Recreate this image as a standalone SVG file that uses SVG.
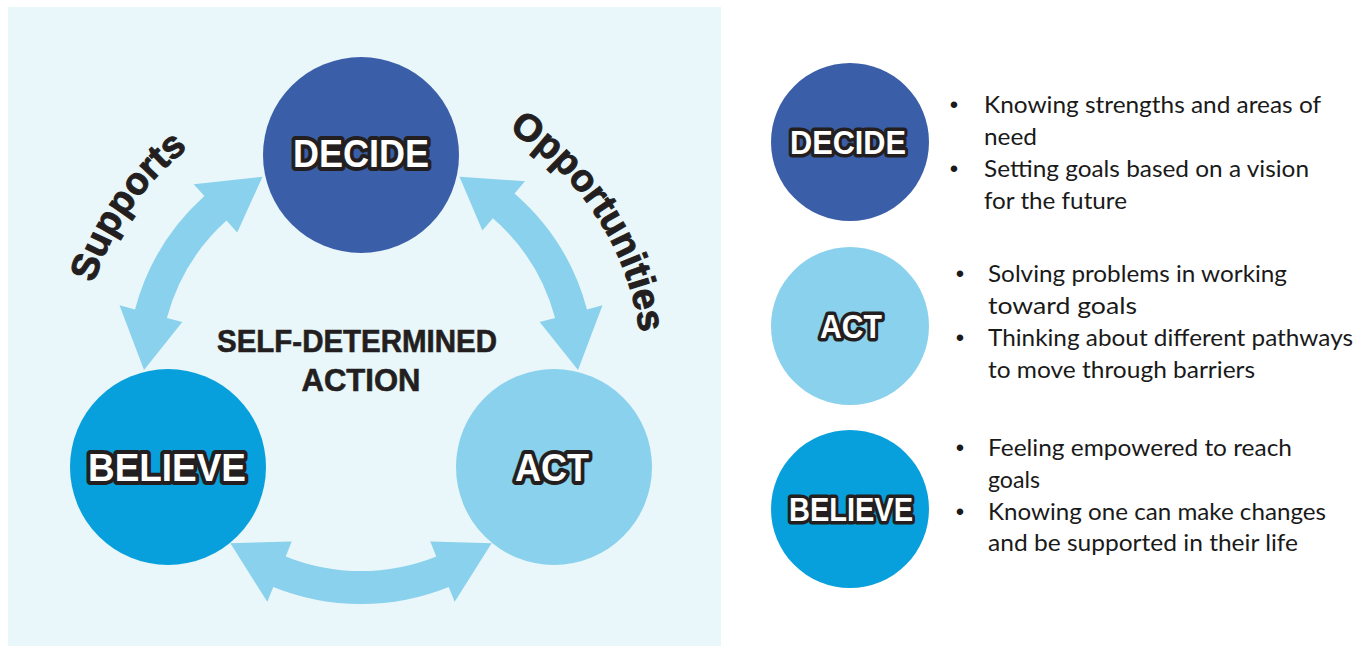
<svg xmlns="http://www.w3.org/2000/svg" width="1364" height="648" viewBox="0 0 1364 648">
<defs>
<style>
.lbl{font-family:"Liberation Sans",Arial,sans-serif;font-weight:700;fill:#ffffff;stroke:#231f20;stroke-linejoin:round;paint-order:stroke;text-anchor:middle}
.big{font-size:38px;stroke-width:8px}
.sm{font-size:33px;stroke-width:7px}
.arcl{font-family:"Liberation Sans",Arial,sans-serif;font-weight:700;font-size:38px;fill:#231f20;stroke:#231f20;stroke-width:1px}
.ctr{font-family:"Liberation Sans",Arial,sans-serif;font-weight:700;font-size:31px;fill:#231f20;stroke:#231f20;stroke-width:0.6px;text-anchor:middle}
.bt{font-family:Lato,"Liberation Sans",sans-serif;font-size:24px;fill:#1a1a1a}
.bul{font-family:"Liberation Sans",Arial,sans-serif;font-size:24px;fill:#1a1a1a;text-anchor:middle}
.arrow{fill:#89d1ec}
.decide{fill:#3b5ea9}
.act{fill:#89d1ec}
.believe{fill:#08a0dc}
</style>
<path id="supPath" d="M 81.07,345.51 A 281 281 0 0 1 242.24,115.33"/>
<path id="oppPath" d="M 488.57,119.63 A 281 281 0 0 1 641.62,355.29"/>
</defs>
<rect x="8" y="7" width="713" height="639" fill="#e9f6fa"/>
<g id="connectors">
<path class="arrow" d="M 144,370 L 119.5,305.3 L 135.0,309.4 A 234 234 0 0 1 204.4,196.1 L 193.7,184.2 L 262.5,176.7 L 237.2,232.5 L 226.5,220.6 A 201 201 0 0 0 166.9,318.0 L 182.3,322.1 Z"/>
<path class="arrow" d="M 459.5,176.7 L 525.0,181.3 L 514.5,193.4 A 234 234 0 0 1 587.0,309.4 L 602.5,305.3 L 578,370 L 539.7,322.1 L 555.1,318.0 A 201 201 0 0 0 492.9,218.3 L 482.4,230.4 Z"/>
<path class="arrow" d="M 491.6,543.3 L 430.3,541.5 L 436.3,556.4 A 201 201 0 0 1 285.7,556.4 L 291.7,541.5 L 230.4,543.3 L 267.3,601.8 L 273.3,587.0 A 234 234 0 0 0 448.7,587.0 L 454.7,601.8 Z"/>
<text class="arcl"><textPath href="#supPath" startOffset="50%" text-anchor="middle">Supports</textPath></text>
<text class="arcl"><textPath href="#oppPath" startOffset="50%" text-anchor="middle">Opportunities</textPath></text>
</g>
<g id="node-decide">
<circle class="decide" cx="361" cy="155" r="98"/>
<text class="lbl big" x="361" y="167" textLength="136" lengthAdjust="spacingAndGlyphs">DECIDE</text>
</g>
<g id="node-believe">
<circle class="believe" cx="168" cy="467" r="98"/>
<text class="lbl big" x="167" y="481" textLength="158" lengthAdjust="spacingAndGlyphs">BELIEVE</text>
</g>
<g id="node-act">
<circle class="act" cx="554" cy="467" r="98"/>
<text class="lbl big" x="552" y="481" textLength="74" lengthAdjust="spacingAndGlyphs">ACT</text>
</g>
<g id="center-label">
<text class="ctr" x="357" y="352" textLength="280" lengthAdjust="spacingAndGlyphs">SELF-DETERMINED</text>
<text class="ctr" x="361" y="391">ACTION</text>
</g>
<g id="legend-decide">
<circle class="decide" cx="850" cy="142" r="79"/>
<text class="lbl sm" x="848" y="154" textLength="116" lengthAdjust="spacingAndGlyphs">DECIDE</text>
<text class="bul" x="954" y="113">•</text>
<text class="bt" x="984" y="113" textLength="337" lengthAdjust="spacingAndGlyphs">Knowing strengths and areas of</text>
<text class="bt" x="984" y="145" textLength="53" lengthAdjust="spacingAndGlyphs">need</text>
<text class="bul" x="954" y="177">•</text>
<text class="bt" x="984" y="177" textLength="325" lengthAdjust="spacingAndGlyphs">Setting goals based on a vision</text>
<text class="bt" x="984" y="209" textLength="143" lengthAdjust="spacingAndGlyphs">for the future</text>
</g>
<g id="legend-act">
<circle class="act" cx="850" cy="326" r="79"/>
<text class="lbl sm" x="851" y="338" textLength="62" lengthAdjust="spacingAndGlyphs">ACT</text>
<text class="bul" x="960" y="282">•</text>
<text class="bt" x="988" y="282" textLength="299" lengthAdjust="spacingAndGlyphs">Solving problems in working</text>
<text class="bt" x="988" y="314" textLength="149" lengthAdjust="spacingAndGlyphs">toward goals</text>
<text class="bul" x="960" y="346">•</text>
<text class="bt" x="988" y="346" textLength="365" lengthAdjust="spacingAndGlyphs">Thinking about different pathways</text>
<text class="bt" x="988" y="378" textLength="267" lengthAdjust="spacingAndGlyphs">to move through barriers</text>
</g>
<g id="legend-believe">
<circle class="believe" cx="850" cy="509" r="79"/>
<text class="lbl sm" x="851" y="521" textLength="124" lengthAdjust="spacingAndGlyphs">BELIEVE</text>
<text class="bul" x="960" y="456">•</text>
<text class="bt" x="988" y="456" textLength="304" lengthAdjust="spacingAndGlyphs">Feeling empowered to reach</text>
<text class="bt" x="988" y="488" textLength="52" lengthAdjust="spacingAndGlyphs">goals</text>
<text class="bul" x="960" y="520">•</text>
<text class="bt" x="988" y="520" textLength="338" lengthAdjust="spacingAndGlyphs">Knowing one can make changes</text>
<text class="bt" x="988" y="551" textLength="310" lengthAdjust="spacingAndGlyphs">and be supported in their life</text>
</g>
</svg>
